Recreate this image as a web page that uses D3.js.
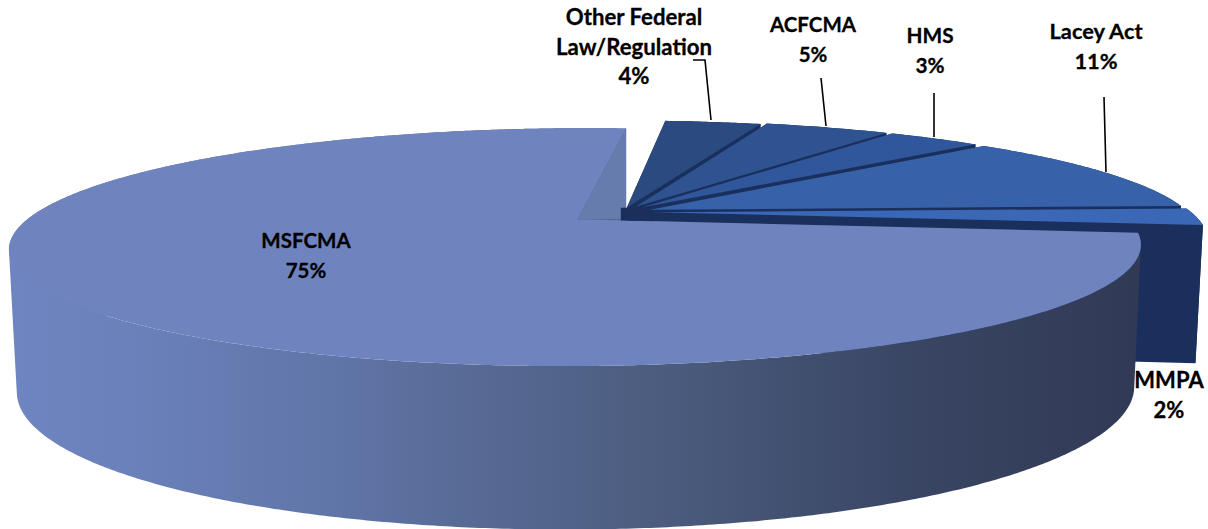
<!DOCTYPE html>
<html><head><meta charset="utf-8">
<script src="https://cdn.jsdelivr.net/npm/d3@7"></script>
<style>html,body{margin:0;padding:0;background:#fff;overflow:hidden}svg{display:block}
text{font-family:Lato,"Open Sans",sans-serif;font-weight:700;fill:#000;stroke:#000;stroke-width:.3;text-anchor:middle}</style>
</head><body><svg id="c" width="1208" height="529"></svg>
<script>
// data: share of the total, in percent, in drawing order starting with the large slice
const categories = ["MSFCMA","Other Federal Law/Regulation","ACFCMA","HMS","Lacey Act","MMPA"];
const shares     = [74.6, 3.5, 4.6, 3.45, 11.45, 2.4];
// styling
const topColors  = ["#6f84bf","#2a4a80","#2e5390","#30569b","#3762a9","#3a68b6"];
const sideColor  = "#1b2f5c";
const explodeBy  = [0.105,0.04,0.055,0.055,0.055,0.055];
const radiusBy   = [0.996,0.995,0.99,0.99,0.99,0.99];
const labelLines = [["MSFCMA"],["Other Federal","Law/Regulation"],["ACFCMA"],["HMS"],["Lacey Act"],["MMPA"]];
const labelSize  = [20.5,22.2,20.5,20.8,21.8,22];
const labelPos   = [[306,248],[634,25],[813,32],[930,43],[1096,39],[1169,388]];
const leaders    = [null,[[693,60],[705,60],[711,120]],[[821,78],[826,126]],[[934,93],[934,137]],[[1104,97],[1106,172]],null];

const svg = d3.select("#c");
const P = 0.2308, C = {x:622.5,y:212};
const top0 = {rx:544,ry:109.5,dy:0}, bot = {rx:537,ry:129,dy:136};
function project(u,v,lvl){
  const w = 1+P*v;
  return [C.x+lvl.rx*u/w, C.y+lvl.dy-lvl.ry*v/w];
}
const pie = d3.pie().sort(null).startAngle(96.6*Math.PI/180).endAngle((96.6+360)*Math.PI/180);
const arcs = pie(shares);
const line = d3.line();
const defs = svg.append("defs");
const grad = defs.append("linearGradient").attr("id","wall").attr("gradientUnits","userSpaceOnUse")
  .attr("x1",10).attr("x2",1140).attr("y1",0).attr("y2",0);
[[0,"#6f85c1"],[0.12,"#6a80b9"],[0.3,"#5f74a6"],[0.45,"#55678f"],[0.62,"#485879"],[0.8,"#394563"],[1,"#313a55"]]
  .forEach(s=>grad.append("stop").attr("offset",s[0]).attr("stop-color",s[1]));

function geom(i){
  const a=arcs[i], m=(a.startAngle+a.endAngle)/2, e=explodeBy[i], r=radiusBy[i];
  const ox=e*Math.sin(m), oy=e*Math.cos(m);
  const pt=(t,lvl)=>project(ox+r*Math.sin(t),oy+r*Math.cos(t),lvl);
  const apex=lvl=>project(ox,oy,lvl);
  const n=Math.max(8,Math.round((a.endAngle-a.startAngle)*120));
  const ts=d3.range(n+1).map(k=>a.startAngle+(a.endAngle-a.startAngle)*k/n);
  return {a,pt,apex,ts};
}
function poly(g,d,fill){ g.append("path").attr("d",line(d)+"Z").attr("fill",fill); }
// outer wall: union of same-orientation quads, so the silhouette between both rims is filled
function wall(g,pt,ts,fill){
  let d="";
  for(let k=0;k<ts.length-1;k++){
    let q=[pt(ts[k],top0),pt(ts[k+1],top0),pt(ts[k+1],bot),pt(ts[k],bot)];
    if(d3.polygonArea(q)<0) q.reverse();
    d+=line(q)+"Z";
  }
  g.append("path").attr("d",d).attr("fill",fill).attr("fill-rule","nonzero");
}

// small slices, back to front
for(let i=1;i<arcs.length;i++){
  const {a,pt,apex,ts}=geom(i), g=svg.append("g");
  poly(g,[apex(top0),pt(a.endAngle,top0),pt(a.endAngle,bot),apex(bot)],sideColor);
  poly(g,[apex(top0),pt(a.startAngle,top0),pt(a.startAngle,bot),apex(bot)],sideColor);
  wall(g,pt,ts,sideColor);
  poly(g,[apex(top0)].concat(ts.map(t=>pt(t,top0))),topColors[i]);
}
// large slice
const mainG = geom(0);
{
  const {a,pt,apex,ts}=mainG, g=svg.append("g");
  wall(g,pt,ts,"url(#wall)");
  poly(g,[apex(top0)].concat(ts.map(t=>pt(t,top0))),topColors[0]);
  poly(g,[apex(top0),pt(a.endAngle,top0),[pt(a.endAngle,top0)[0],apex(top0)[1]]],"#667cad");
}
// dark hub where the exploded slices meet: ends on the large slice's straight edge
{
  const first=geom(1), last=geom(arcs.length-1);
  const a0=first.apex(top0), a1=last.apex(top0);
  const m0=mainG.apex(top0), m1=mainG.pt(mainG.a.startAngle,top0);
  const edge=d3.scaleLinear().domain([m0[0],m1[0]]).range([m0[1],m1[1]]);
  poly(svg,[[a0[0]-6,a0[1]],a0,a1,[a1[0],edge(a1[0])],[a0[0]-6,edge(a0[0]-6)]],sideColor);
}
leaders.forEach(l=>{ if(l) svg.append("path").attr("d",line(l)).attr("fill","none").attr("stroke","#000").attr("stroke-width",1.6); });
categories.forEach((c,i)=>{
  const t=svg.append("text").attr("x",labelPos[i][0]).attr("y",labelPos[i][1]).attr("font-size",labelSize[i]);
  const rows=labelLines[i].concat([Math.round(shares[i])+"%"]);
  rows.forEach((r,k)=>t.append("tspan").attr("x",labelPos[i][0]).attr("dy",k?29.5:0).text(r));
});
</script></body></html>
